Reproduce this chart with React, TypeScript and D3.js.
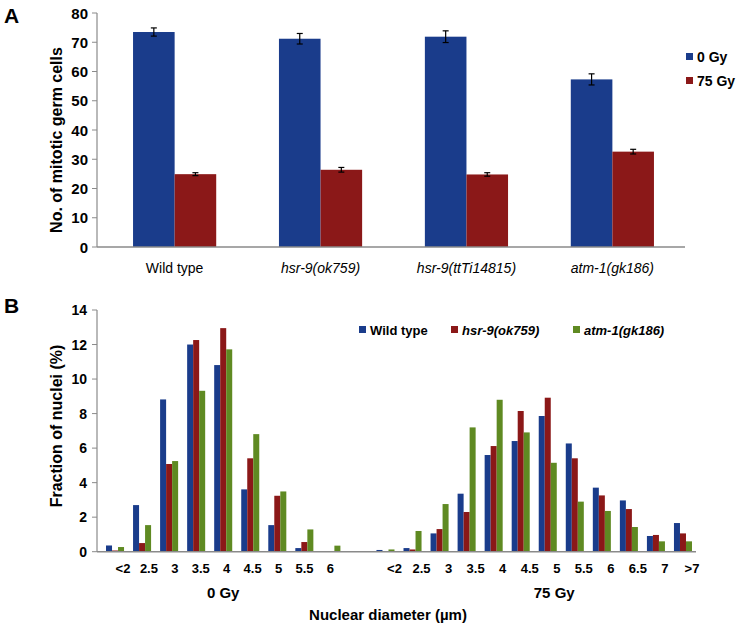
import * as d3 from "d3";

// Panel A: mitotic germ cells
const strainsA = ["Wild type", "hsr-9(ok759)", "hsr-9(ttTi14815)", "atm-1(gk186)"];
const italicA = [false, true, true, true];
const doseSeries = ["0 Gy", "75 Gy"];
const mitotic0 = [73.5, 71.2, 71.9, 57.3];
const mitotic0Err = [1.4, 1.8, 2.0, 1.9];
const mitotic75 = [24.9, 26.4, 24.8, 32.6];
const mitotic75Err = [0.5, 0.8, 0.6, 0.8];
const ticksA = [0, 10, 20, 30, 40, 50, 60, 70, 80];

// Panel B: nuclear diameter distribution
const bins0 = ["<2", "2.5", "3", "3.5", "4", "4.5", "5", "5.5", "6"];
const bins75 = ["<2", "2.5", "3", "3.5", "4", "4.5", "5", "5.5", "6", "6.5", "7", ">7"];
const seriesB = ["Wild type", "hsr-9(ok759)", "atm-1(gk186)"];
const italicB = [false, true, true];
const wt0 = [0.36, 2.7, 8.82, 12.0, 10.81, 3.61, 1.54, 0.21, 0];
const hsr0 = [0.07, 0.5, 5.08, 12.26, 12.95, 5.41, 3.24, 0.56, 0];
const atm0 = [0.27, 1.54, 5.25, 9.32, 11.72, 6.81, 3.49, 1.29, 0.35];
const wt75 = [0.1, 0.21, 1.06, 3.36, 5.6, 6.41, 7.86, 6.27, 3.71, 2.97, 0.91, 1.66];
const hsr75 = [0, 0.13, 1.31, 2.3, 6.12, 8.15, 8.92, 5.41, 3.26, 2.47, 0.97, 1.06];
const atm75 = [0.13, 1.2, 2.76, 7.2, 8.8, 6.91, 5.15, 2.9, 2.36, 1.43, 0.6, 0.6];
const ticksB = [0, 2, 4, 6, 8, 10, 12, 14];

const BLUE = "#1a3c8b";
const RED = "#8b1818";
const GREEN = "#5f8a22";
const AXIS = "#8a8a8a";
const FONT = "'Liberation Sans', Arial, sans-serif";

export default function App() {
  // ---- panel A scales
  const yA = d3.scaleLinear().domain([0, 80]).range([247, 13]);
  const xA = d3.scaleBand().domain(strainsA).range([97, 690]).paddingInner(0.43).paddingOuter(0.247);
  const subA = d3.scaleBand().domain(doseSeries).range([0, xA.bandwidth()]);
  const colorsA = [BLUE, RED];
  const valsA = [mitotic0, mitotic75];
  const errsA = [mitotic0Err, mitotic75Err];

  // ---- panel B scales
  const keys0 = bins0.map((b) => "0|" + b);
  const keys75 = bins75.map((b) => "75|" + b);
  const catsB = [...keys0, "gap", ...keys75];
  const yB = d3.scaleLinear().domain([0, 14]).range([551.7, 310]);
  const xB = d3.scaleBand().domain(catsB).range([101.5, 696.5]).paddingInner(1 / 3).paddingOuter(1 / 6);
  const subB = d3.scaleBand().domain(seriesB).range([0, xB.bandwidth()]);
  const colorsB = [BLUE, RED, GREEN];
  const rowsB = [
    [...wt0, 0, ...wt75],
    [...hsr0, 0, ...hsr75],
    [...atm0, 0, ...atm75],
  ];
  const half = xB.bandwidth() / 2;
  const lab0 = d3
    .scalePoint()
    .domain(bins0)
    .range([(xB(keys0[0]) as number) + half + 8, (xB(keys0[keys0.length - 1]) as number) + half - 1]);
  const mid0 = ((xB(keys0[0]) as number) + (xB(keys0[keys0.length - 1]) as number)) / 2 + half;
  const mid75 = ((xB(keys75[0]) as number) + (xB(keys75[keys75.length - 1]) as number)) / 2 + half + 20;

  return (
    <svg
      width={738}
      height={624}
      style={{ position: "absolute", left: 0, top: 0, background: "#fff" }}
      fontFamily={FONT}
    >
      <rect x={0} y={0} width={738} height={624} fill="#fff" />

      {/* ===== Panel A ===== */}
      <text x={4} y={23} fontSize={21} fontWeight="bold">A</text>
      <text
        transform={`translate(56,140) rotate(-90)`}
        textAnchor="middle"
        dominantBaseline="central"
        fontSize={16}
        fontWeight="bold"
      >
        No. of mitotic germ cells
      </text>
      {ticksA.map((t) => (
        <g key={"ta" + t}>
          <line x1={92} x2={97} y1={yA(t)} y2={yA(t)} stroke={AXIS} strokeWidth={1} />
          <text x={88} y={yA(t)} textAnchor="end" dominantBaseline="central" fontSize={15} fontWeight="bold">
            {t}
          </text>
        </g>
      ))}
      {strainsA.map((s, i) => (
        <g key={s} transform={`translate(${xA(s)},0)`}>
          {doseSeries.map((d, j) => {
            const v = valsA[j][i];
            const e = errsA[j][i];
            const cx = (subA(d) as number) + subA.bandwidth() / 2;
            return (
              <g key={d}>
                <rect
                  x={subA(d)}
                  y={yA(v)}
                  width={subA.bandwidth()}
                  height={yA(0) - yA(v)}
                  fill={colorsA[j]}
                />
                <line x1={cx} x2={cx} y1={yA(v + e)} y2={yA(v - e)} stroke="#000" strokeWidth={1.2} />
                <line x1={cx - 3} x2={cx + 3} y1={yA(v + e)} y2={yA(v + e)} stroke="#000" strokeWidth={1.2} />
                <line x1={cx - 3} x2={cx + 3} y1={yA(v - e)} y2={yA(v - e)} stroke="#000" strokeWidth={1.2} />
              </g>
            );
          })}
          <text
            x={xA.bandwidth() / 2}
            y={273}
            textAnchor="middle"
            fontSize={14}
            fontStyle={italicA[i] ? "italic" : "normal"}
          >
            {s}
          </text>
        </g>
      ))}
      <line x1={97} x2={97} y1={yA(80)} y2={yA(0)} stroke={AXIS} strokeWidth={1.2} />
      <line x1={97} x2={685} y1={yA(0)} y2={yA(0)} stroke={AXIS} strokeWidth={1.5} />
      {doseSeries.map((d, j) => (
        <g key={"la" + d} transform={`translate(686,${53 + j * 24})`}>
          <rect x={0} y={0} width={7} height={7} fill={colorsA[j]} />
          <text x={11} y={4} dominantBaseline="central" fontSize={14} fontWeight="bold">
            {d}
          </text>
        </g>
      ))}

      {/* ===== Panel B ===== */}
      <text x={4} y={313} fontSize={21} fontWeight="bold">B</text>
      <text
        transform={`translate(56,426) rotate(-90)`}
        textAnchor="middle"
        dominantBaseline="central"
        fontSize={16}
        fontWeight="bold"
      >
        Fraction of nuclei (%)
      </text>
      {ticksB.map((t) => (
        <g key={"tb" + t}>
          <line x1={92} x2={97} y1={yB(t)} y2={yB(t)} stroke={AXIS} strokeWidth={1} />
          <text x={87} y={yB(t)} textAnchor="end" dominantBaseline="central" fontSize={14} fontWeight="bold">
            {t}
          </text>
        </g>
      ))}
      {catsB.map((c, i) => (
        <g key={c} transform={`translate(${xB(c)},0)`}>
          {seriesB.map((s, j) => {
            const v = rowsB[j][i];
            return v > 0 ? (
              <rect
                key={s}
                x={subB(s)}
                y={yB(v)}
                width={subB.bandwidth()}
                height={yB(0) - yB(v)}
                fill={colorsB[j]}
              />
            ) : null;
          })}
        </g>
      ))}
      <line x1={97} x2={97} y1={yB(14)} y2={yB(0)} stroke={AXIS} strokeWidth={1.2} />
      <line x1={97} x2={696} y1={yB(0)} y2={yB(0)} stroke={AXIS} strokeWidth={1.5} />
      {bins0.map((b) => (
        <text key={"l0" + b} x={lab0(b)} y={573} textAnchor="middle" fontSize={13} fontWeight="bold">
          {b}
        </text>
      ))}
      {bins75.map((b) => (
        <text
          key={"l75" + b}
          x={(xB("75|" + b) as number) + half + 9}
          y={573}
          textAnchor="middle"
          fontSize={13}
          fontWeight="bold"
        >
          {b}
        </text>
      ))}
      <text x={mid0} y={598} textAnchor="middle" fontSize={15} fontWeight="bold">0 Gy</text>
      <text x={mid75} y={598} textAnchor="middle" fontSize={15} fontWeight="bold">75 Gy</text>
      <text x={388} y={620} textAnchor="middle" fontSize={15} fontWeight="bold">
        Nuclear diameter (µm)
      </text>
      {seriesB.map((s, j) => (
        <g key={"lb" + s} transform={`translate(${[359, 451, 573][j]},326)`}>
          <rect x={0} y={0} width={7} height={7} fill={colorsB[j]} />
          <text
            x={11}
            y={4}
            dominantBaseline="central"
            fontSize={13}
            fontWeight="bold"
            fontStyle={italicB[j] ? "italic" : "normal"}
          >
            {s}
          </text>
        </g>
      ))}
    </svg>
  );
}
